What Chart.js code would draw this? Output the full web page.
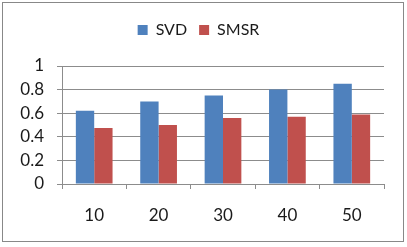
<!DOCTYPE html>
<html>
<head>
<meta charset="utf-8">
<script src="https://cdn.jsdelivr.net/npm/chart.js@4"></script>
<style>
  html, body { margin: 0; padding: 0; background: #fff; }
  #box { position: absolute; left: 2px; top: 2px; width: 400px; height: 238px; border: 1px solid #888; }
  #grafico { display: block; }
</style>
</head>
<body>
<div id="box"><canvas id="grafico" width="400" height="238"></canvas></div>
<script>
let ctx = document.getElementById('grafico')

// dados
const labels = ['10', '20', '30', '40', '50']
const svd = [0.62, 0.70, 0.75, 0.80, 0.85]
const smsr = [0.475, 0.50, 0.56, 0.57, 0.59]
const yTicks = [0, 0.2, 0.4, 0.6, 0.8, 1]

Chart.defaults.font.family = 'Lato, sans-serif'
Chart.defaults.font.size = 17
Chart.defaults.color = '#1a1a1a'

// espaço extra abaixo da legenda
const legendGap = {
    id: 'legendGap',
    beforeInit(chart) {
        const fit = chart.legend.fit
        chart.legend.fit = function () {
            fit.bind(chart.legend)()
            this.height += 18
        }
    }
}

const data = {
    labels,
    datasets: [
        { label: 'SVD', data: svd, backgroundColor: '#4F81BD' },
        { label: 'SMSR', data: smsr, backgroundColor: '#C0504D' }
    ]
}

const config = {
    type: 'bar',
    data,
    plugins: [legendGap],
    options: {
        responsive: false,
        animation: false,
        layout: { padding: { left: 10, right: 19, top: 7, bottom: 0 } },
        datasets: { bar: { categoryPercentage: 0.57, barPercentage: 1 } },
        plugins: {
            legend: {
                position: 'top',
                labels: { boxWidth: 10, boxHeight: 10, padding: 12, font: { size: 16 } }
            },
            tooltip: { enabled: false }
        },
        scales: {
            x: {
                grid: { offset: true, drawOnChartArea: false, drawTicks: true, tickLength: 5, color: '#8c8c8c' },
                border: { display: false },
                ticks: { padding: 16 },
                afterFit: s => { s.height = 57 }
            },
            y: {
                min: 0,
                max: 1,
                afterBuildTicks: s => { s.ticks = yTicks.map(v => ({ value: v })) },
                grid: { color: '#8c8c8c', tickLength: 5 },
                border: { display: true, color: '#8c8c8c' },
                ticks: { padding: 13, autoSkip: false, callback: v => String(v) },
                afterFit: s => { s.width = 49 }
            }
        }
    }
}

const graph = new Chart(ctx, config)
</script>
</body>
</html>
